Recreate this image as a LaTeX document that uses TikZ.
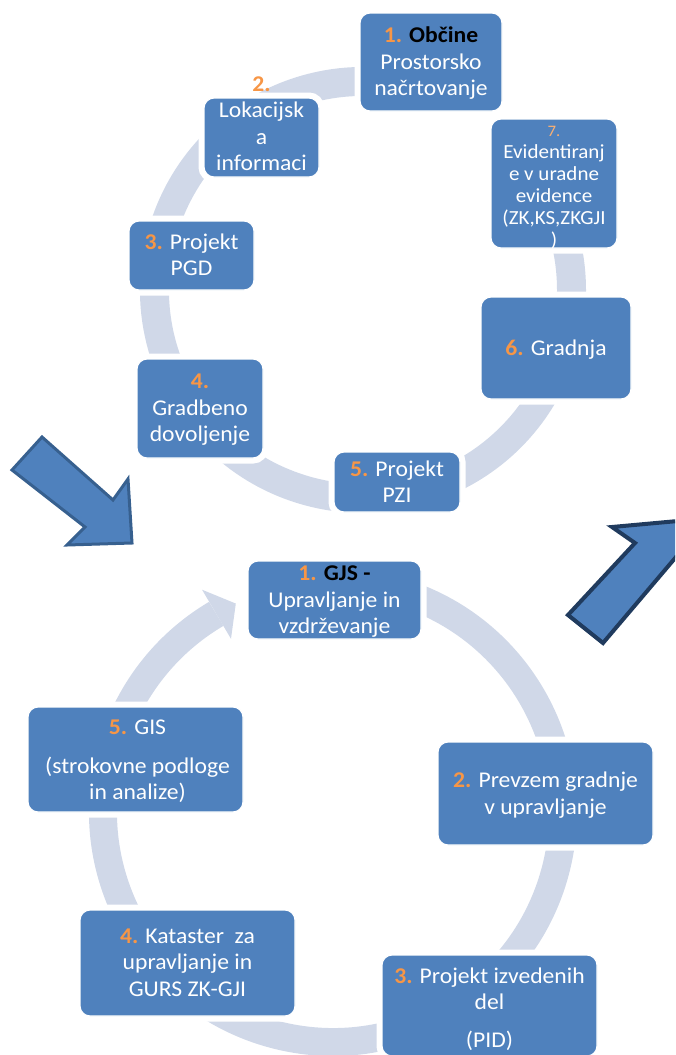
\documentclass[tikz,border=0pt]{standalone}
\usepackage{fontspec}
\setmainfont{Carlito}[FakeStretch=1.05]
\usetikzlibrary{calc}

\definecolor{boxblue}{HTML}{4F81BD}
\definecolor{ringgray}{HTML}{D0D8E8}
\definecolor{numorange}{HTML}{F79646}
\definecolor{arrowline}{HTML}{37608F}
\definecolor{arrowdark}{HTML}{203B5E}

% orange step number
\newcommand{\stepnum}[1]{\textcolor{numorange}{\textbf{#1}}}
% black bold heading word
\newcommand{\headword}[1]{\textcolor{black}{\textbf{#1}}}

\tikzset{
  box/.style={draw=white, line width=1.2pt, fill=boxblue, rounded corners=10pt,
    inner sep=0pt, preaction={draw=white, line width=11pt}},
  txt/.style={text=white, align=center, inner sep=0pt,
    font=\fontsize{22.5}{26.5}\selectfont},
  ringtop/.style={draw=ringgray, line width=29pt},
  ringbot/.style={draw=ringgray, line width=28pt},
  bigarrow/.style={fill=boxblue, line join=miter}
}

\begin{document}
\begin{tikzpicture}[x=1pt,y=1pt]
\useasboundingbox (0,0) rectangle (675,-1055);
\clip (0,0) rectangle (675,-1055);

% ---------- upper cycle: ring ----------
\coordinate (tc) at (363,-290);
\draw[ringtop] ($(tc)+(72:208.5)$) arc[start angle=72, end angle=405, radius=208.5];

% ---------- lower cycle: ring with arrow head ----------
\coordinate (bc) at (333,-812);
\draw[ringbot] ($(bc)+(75:230)$) arc[start angle=75, end angle=-239.5, radius=230];
\fill[ringgray] ($(bc)+(120.5:258)$) -- ($(bc)+(115:230)$) -- ($(bc)+(120.5:201)$) -- cycle;

% ---------- upper cycle: boxes ----------
\node[box, minimum width=142, minimum height=98]  (b1) at (431,-62)    {};
\node[box, minimum width=115, minimum height=79]  (b2) at (261.5,-137.5) {};
\node[box, minimum width=125, minimum height=69]  (b3) at (191.5,-255.5) {};
\node[box, minimum width=126, minimum height=99]  (b4) at (200,-408.5) {};
\node[box, minimum width=126, minimum height=60]  (b5) at (397,-482)   {};
\node[box, minimum width=150, minimum height=102] (b6) at (556,-348)   {};
\node[box, minimum width=126, minimum height=129] (b7) at (554,-183.5) {};

% ---------- lower cycle: boxes ----------
\node[box, minimum width=173, minimum height=78]  (c1) at (334.5,-600)  {};
\node[box, minimum width=215, minimum height=103] (c2) at (545.5,-793.5) {};
\node[box, minimum width=215, minimum height=101] (c3) at (489.5,-1005.5) {};
\node[box, minimum width=215, minimum height=106] (c4) at (187.5,-963)  {};
\node[box, minimum width=215, minimum height=105] (c5) at (135.5,-759.5) {};

% ---------- upper cycle: texts ----------
\node[txt] (t1) at (431,-63.5) {\stepnum{1.} \headword{Občine}\\Prostorsko\\načrtovanje};
\node[txt] (t2) at (261.5,-123.7) {\stepnum{2.}\\Lokacijsk\\a\\informaci};
\node[txt] (t3) at (191.5,-255) {\stepnum{3.} Projekt\\PGD};
\node[txt] (t4) at (200,-410) {\stepnum{4.}\\Gradbeno\\dovoljenje};
\node[txt] (t5) at (397,-481.5) {\stepnum{5.} Projekt\\PZI};
\node[txt] (t6) at (556,-350) {\stepnum{6.} Gradnja};
\node[txt, font=\fontsize{20}{22}\selectfont] (t7) at (554,-187.5)
  {{\fontsize{16}{22}\selectfont\textcolor{numorange!75}{7.}}\\Evidentiranj\\e v uradne\\evidence\\(ZK,KS,ZKGJI\\)};

% ---------- lower cycle: texts ----------
\node[txt] (u1) at (334.5,-602) {\stepnum{1.} \headword{GJS -}\\Upravljanje in\\vzdrževanje};
\node[txt] (u2) at (545.5,-795) {\stepnum{2.} Prevzem gradnje\\v upravljanje};
\node[txt] (u3) at (489.5,-1009) {\stepnum{3.} Projekt izvedenih\\del\\[11pt](PID)};
\node[txt] (u4) at (187.5,-962.5) {\stepnum{4.} Kataster\ \ za\\upravljanje in\\GURS ZK-GJI};
\node[txt] (u5) at (137.5,-761.5) {\stepnum{5.} GIS\\[12pt](strokovne podloge\\in analize)};

% ---------- block arrows between the cycles ----------
\draw[bigarrow, draw=arrowline, line width=3pt]
  (42,-437) -- (113,-500) -- (128,-479) -- (132,-543) -- (67,-545) -- (85,-527) -- (12,-470) -- cycle;
\draw[bigarrow, draw=arrowdark, line width=4pt]
  (568,-615) -- (635,-543) -- (612,-527) -- (700,-519) -- (705,-585) -- (676,-557) -- (603,-643) -- cycle;
\end{tikzpicture}
\end{document}
